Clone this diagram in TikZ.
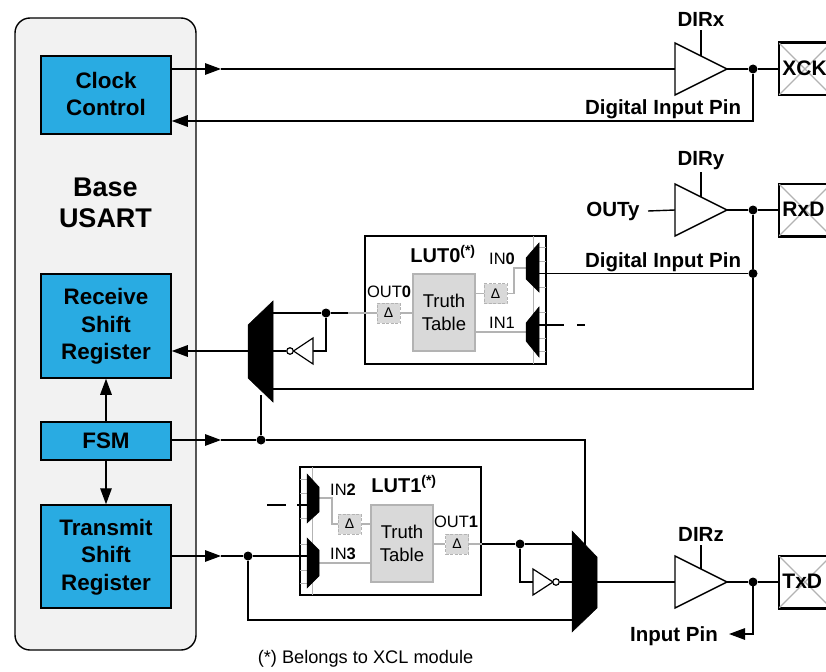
\documentclass[tikz,border=0pt]{standalone}
\usepackage{fontspec}
\setmainfont{Liberation Sans}
\usetikzlibrary{arrows.meta}
\definecolor{usartblue}{HTML}{29ABE2}
\definecolor{panelgray}{HTML}{F2F2F2}
\definecolor{tablegray}{HTML}{D9D9D9}
\definecolor{wiregray}{HTML}{B3B3B3}
\tikzset{
  wire/.style={line width=1.4pt,black,line join=miter},
  gwire/.style={line width=1.3pt,wiregray},
  tick/.style={line width=1pt,wiregray},
  arr/.style={wire,-{Triangle[length=16pt,width=11.5pt]},shorten >=0pt},
  block/.style={draw=black,line width=1.5pt,fill=usartblue,inner sep=0pt,align=center,
     font=\fontsize{22.4}{27.5}\selectfont\bfseries,minimum width=130pt},
  lutbox/.style={draw=black,line width=1.5pt,fill=white,inner sep=0pt,minimum width=181pt,minimum height=128pt},
  ttable/.style={draw=wiregray,line width=1.2pt,fill=tablegray,inner sep=0pt,align=center,
     minimum width=62pt,minimum height=77pt,font=\fontsize{18.5}{22.5}\selectfont},
  dbox/.style={draw=wiregray,dashed,dash pattern=on 3pt off 1.5pt,line width=1pt,fill=tablegray,inner sep=0pt,
     minimum width=23pt,minimum height=20pt,font=\fontsize{14}{14}\selectfont},
  pin/.style={draw=black,line width=1.5pt,fill=white,minimum width=52pt,minimum height=52pt,inner sep=0pt},
  lbl/.style={inner sep=0pt,font=\fontsize{20.5}{24}\selectfont\bfseries},
  small/.style={inner sep=0pt,font=\fontsize{16.5}{18}\selectfont},
  buf/.style={draw=black,line width=1.4pt,fill=white},
  mux/.style={fill=black,draw=black,line width=.5pt},
  dotn/.style={circle,fill=black,inner sep=0pt,minimum size=9pt},
  bubble/.style={circle,draw=black,line width=1.2pt,fill=white,inner sep=0pt,minimum size=6.5pt}
}
\begin{document}
\begin{tikzpicture}[x=1pt,y=-1pt]
\useasboundingbox (0,0) rectangle (826,671);
\fill[white] (0,0) rectangle (826,671);
% base panel
\draw[line width=1.4pt,fill=panelgray,rounded corners=15pt] (15,18) rectangle (196,650);
\node[font=\fontsize{27}{31}\selectfont\bfseries,align=center,inner sep=0pt] (base) at (105.5,203) {Base\\USART};
% blocks
\node[block,minimum height=78pt] (clock) at (106,95) {};
\node[block,draw=none,fill=none] at (106,94) {Clock\\Control};
\node[block,minimum height=104pt] (rx) at (106,326) {};
\node[block,draw=none,fill=none] at (106,326.5) {Receive\\Shift\\Register};
\node[block,minimum height=38pt] (fsm) at (106,441) {FSM};
\node[block,minimum height=103pt] (tx) at (106,556.5) {};
\node[block,draw=none,fill=none] at (106,557) {Transmit\\Shift\\Register};
% key coordinates
\coordinate (bx) at (675,69); \coordinate (bxo) at (727,69);
\coordinate (by) at (675,210); \coordinate (byo) at (727,210);
\coordinate (bz) at (675,582); \coordinate (bzo) at (727,582);
% pins
\node[pin] (xck) at (805,69) {};
\node[pin] (rxd) at (805,210) {};
\node[pin] (txd) at (805,582) {};
\foreach \p/\t in {xck/XCK,rxd/RxD,txd/TxD}{
  \draw[gwire] (\p.north west) -- (\p.south east);
  \draw[gwire] (\p.south west) -- (\p.north east);
  \draw[line width=1.5pt] (\p.north west) -- (\p.north east) (\p.south west) -- (\p.south east) (\p.north west) -- (\p.south west);
  \node[lbl,font=\fontsize{21}{24}\selectfont\bfseries,anchor=west] at ([xshift=4pt,yshift=1pt]\p.west) {\t};
}
% dots
\node[dotn] (dx) at (753,69) {};
\node[dotn] (dy) at (753,210) {};
\node[dotn] (dy2) at (753,273.5) {};
\node[dotn] (dz) at (753,582) {};
\node[dotn] (d0) at (326,313) {};
\node[dotn] (df) at (261,440) {};
\node[dotn] (dt) at (248,556) {};
\node[dotn] (d1) at (520,544) {};
% LUT boxes
\node[lutbox] (lut0) at (455.5,300) {};
\node[lutbox] (lut1) at (390.5,531) {};
\coordinate (l0in) at (lut0.west|-d0);
\coordinate (l1out) at (lut1.east|-d1);
% XCK wires
\draw[arr] (clock.east|-bx) -- (221,69);
\draw[wire] (221,69) -- (bx);
\draw[wire] (bxo) -- (dx) -- (xck.west);
\draw[wire] (dx) -- (753,121) -- (188,121);
\draw[arr] (188,121) -- (clock.east|-0,121);
% RxD wires
\node[lbl] (outy) at (613,211) {OUTy};
\draw[wire] (648,211) -- (by);
\draw[wire] (byo) -- (dy) -- (rxd.west);
\draw[wire] (dy) -- (dy2) -- (753,389) -- (273,389);
\draw[wire] (dy2) -- (546,273.5);
% dir lines
\node[lbl] (dirx) at (701,19) {DIRx};
\node[lbl] (diry) at (701,161) {DIRy};
\node[lbl] (dirz) at (701,534) {DIRz};
\draw[wire] (dirx.south|-0,30) -- (701,56);
\draw[wire] (diry.south|-0,172) -- (701,197);
\draw[wire] (dirz.south|-0,545) -- (701,570);
% buffers
\draw[buf] (675,43) -- (727,69) -- (675,95) -- cycle;
\draw[buf] (675,184) -- (727,210) -- (675,236) -- cycle;
\draw[buf] (675,556) -- (727,582) -- (675,608) -- cycle;
\draw[wire] (753,582) -- (753,634) -- (745,634);
\draw[arr] (745,634) -- (729,634);
\draw[wire] (bzo) -- (dz) -- (txd.west);
\node[lbl] at (663,109.5) {Digital Input Pin};
\node[lbl] at (663,262.5) {Digital Input Pin};
\node[lbl] at (674,636.5) {Input Pin};
% FSM arrows
\draw[arr] (fsm.north) -- (rx.south);
\draw[arr] (fsm.south) -- (tx.north);
\draw[arr] (fsm.east|-df) -- (221,440);
\draw[wire] (221,440) -- (df) -- (585,440) -- (585,545);
\draw[wire] (df) -- (261,395);
% big mux left
\fill[mux] (248,325) -- (273,301) -- (273,402) -- (248,378) -- cycle;
\draw[wire] (248,351) -- (188,351);
\draw[arr] (188,351) -- (rx.east|-0,351);
\draw[wire] (273,313) -- (d0);
\draw[wire] (d0) -- (348,313);
\draw[gwire] (348,313) -- (377,313);
\draw[wire] (d0) -- (326,351) -- (313,351);
\draw[buf,line width=1.2pt] (313,338) -- (313,364) -- (293.5,351) -- cycle;
\node[bubble] (bub0) at (290,351) {};
\draw[wire] (bub0.west) -- (273,351);
% LUT0 interior
\node[ttable] (tt0) at (444,312.5) {Truth\\Table};
\node[dbox] (dl0) at (388.5,313) {Δ};
\node[dbox] (dl0i) at (495.5,293.5) {Δ};
\draw[gwire] (dl0.east) -- (dl0.east-|tt0.west);
\draw[gwire] (dl0i.west) -- (dl0i.west-|tt0.east);
\draw[gwire] (dl0i.east) -- (514,293.5) -- (514,268) -- (526,268);
\draw[gwire] (tt0.east|-0,332) -- (526,332);
\draw[tick] (533,236) -- (533,364);
\foreach \y in {247,261,287,312,338,351}{\draw[tick] (533,\y) -- (546,\y);}
\draw[wire] (533,273.5) -- (546,273.5);
\draw[wire] (533,325) -- (564,325);
\draw[wire] (577,325) -- (585,325);
\fill[mux] (526,258) -- (539,243) -- (539,292) -- (526,279) -- cycle;
\fill[mux] (526,323) -- (539,307) -- (539,357) -- (526,341) -- cycle;
\node[font=\fontsize{20}{22}\selectfont\bfseries,inner sep=0pt] at (443,254) {LUT0\textsuperscript{(*)}};
\node[small] at (389,292) {OUT\textbf{0}};
\node[small] at (502,259) {IN\textbf{0}};
\node[small] at (502,323) {IN1};
% LUT1 interior
\draw[arr] (tx.east|-dt) -- (221,556);
\draw[wire] (221,556) -- (dt) -- (300,556);
\draw[wire] (dt) -- (248,620) -- (572,620);
\node[ttable] (tt1) at (402,543.5) {Truth\\Table};
\node[dbox] (dl1) at (349.5,524) {Δ};
\node[dbox] (dl1o) at (457,544) {Δ};
\draw[gwire] (dl1.east) -- (dl1.east-|tt1.west);
\draw[gwire] (dl1o.west) -- (dl1o.west-|tt1.east);
\draw[gwire] (dl1o.east) -- (l1out);
\draw[gwire] (319,498) -- (332,498) -- (332,524) -- (dl1.west);
\draw[gwire] (319,563) -- (tt1.west|-0,563);
\draw[tick] (312,467) -- (312,595);
\foreach \y in {479,493,518,544,570,583}{\draw[tick] (300,\y) -- (312,\y);}
\draw[wire] (300,556) -- (312,556);
\draw[wire] (297,505) -- (312,505);
\draw[wire] (267,505) -- (286,505);
\fill[mux] (307,474) -- (319,487) -- (319,512) -- (307,523) -- cycle;
\fill[mux] (307,538) -- (319,550) -- (319,576) -- (307,588) -- cycle;
\node[font=\fontsize{20}{22}\selectfont\bfseries,inner sep=0pt] at (404,484) {LUT1\textsuperscript{(*)}};
\node[small] at (456,522) {OUT\textbf{1}};
\node[small] at (343,490) {IN\textbf{2}};
\node[small] at (343,554) {IN\textbf{3}};
% LUT1 output
\draw[wire] (l1out) -- (d1) -- (572,544);
\draw[wire] (d1) -- (520,582) -- (533,582);
\draw[buf,line width=1.2pt] (533,569) -- (533,595) -- (553,582) -- cycle;
\node[bubble] (bub1) at (556,582) {};
\draw[wire] (bub1.east) -- (572,582);
% big mux right
\fill[mux] (572,531) -- (597,557) -- (597,608) -- (572,632) -- cycle;
\draw[wire] (597,582) -- (bz);
% footnote
\node[inner sep=0pt,font=\fontsize{18.2}{20}\selectfont] at (365.5,659) {(*) Belongs to XCL module};
\end{tikzpicture}
\end{document}
